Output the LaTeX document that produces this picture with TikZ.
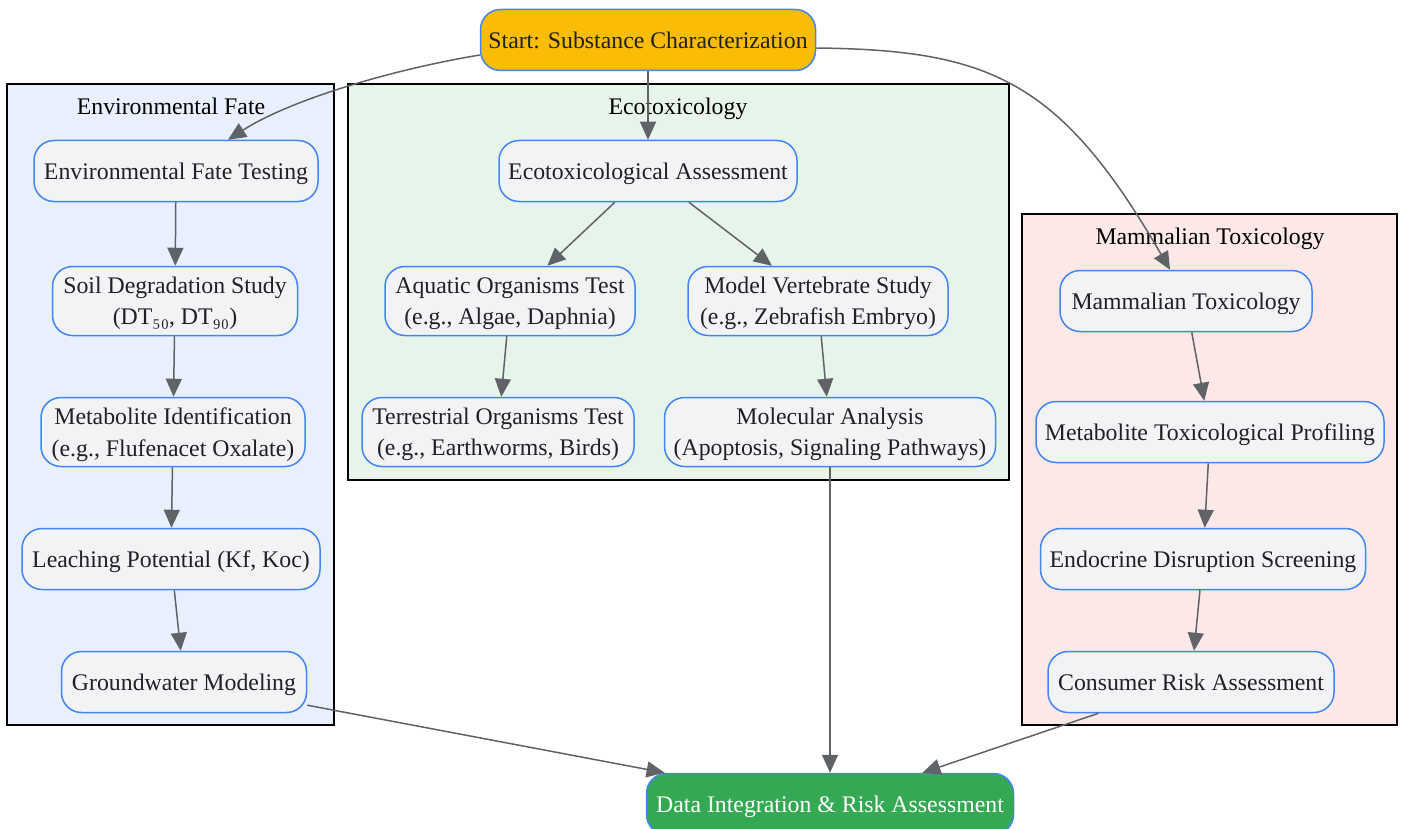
\documentclass[tikz,border=0pt]{standalone}
\usepackage{fontspec}
\setmainfont{Liberation Serif}
\usetikzlibrary{arrows.meta,calc}
\definecolor{nodefill}{HTML}{F1F3F4}
\definecolor{nodeborder}{HTML}{4285F4}
\definecolor{startfill}{HTML}{FBBC04}
\definecolor{endfill}{HTML}{34A853}
\definecolor{edgecol}{HTML}{5F6368}
\definecolor{txtcol}{HTML}{202124}
\definecolor{envfill}{HTML}{E8F0FE}
\definecolor{ecofill}{HTML}{E6F4EA}
\definecolor{mamfill}{HTML}{FCE8E6}
\tikzset{
  box/.style={draw=nodeborder, line width=0.75pt, fill=nodefill, rounded corners=10pt,
    align=center, inner sep=0pt, text=txtcol, text depth=0pt,
    font=\fontsize{11.9}{15.7}\selectfont},
  twoline/.style={box, text depth=-2pt},
  startbox/.style={box, fill=startfill},
  endbox/.style={box, fill=endfill, text=white},
  cluster/.style={draw=black, line width=0.75pt},
  ctitle/.style={font=\fontsize{11.9}{15.5}\selectfont, text=black, text depth=0pt},
  edge/.style={draw=edgecol, line width=0.75pt, -{Triangle[length=9pt,width=8pt]}}
}
\begin{document}
\begin{tikzpicture}[x=0.5pt,y=-0.5pt]
\clip (0,0) rectangle (1403,829);
\fill[white] (0,0) rectangle (1403,829);
% clusters
\draw[cluster, fill=envfill] (7,84) rectangle (334,725);
\draw[cluster, fill=ecofill] (348,84) rectangle (1009,480);
\draw[cluster, fill=mamfill] (1022,214) rectangle (1397,725);
\node[ctitle] (tenv) at (171,106) {Environmental Fate};
\node[ctitle] (teco) at (678,106) {Ecotoxicology};
\node[ctitle] (tmam) at (1210,236) {Mammalian Toxicology};
% nodes
\node[startbox, minimum width=167.5pt, minimum height=30.5pt] (start) at (648,40) {Start: Substance Characterization};
\node[box, minimum width=142pt, minimum height=30.5pt] (envt) at (176,171) {Environmental Fate Testing};
\node[twoline, minimum width=122.5pt, minimum height=34.5pt] (soil) at (175,301) {Soil Degradation Study\\(DT₅₀, DT₉₀)};
\node[twoline, minimum width=132pt, minimum height=34.5pt] (metid) at (173,432) {Metabolite Identification\\(e.g., Flufenacet Oxalate)};
\node[box, minimum width=149pt, minimum height=30.5pt] (leach) at (171,559) {Leaching Potential (Kf, Koc)};
\node[box, minimum width=122.5pt, minimum height=30.5pt] (ground) at (184,682) {Groundwater Modeling};
\node[box, minimum width=149pt, minimum height=30.5pt] (ecoa) at (648,171) {Ecotoxicological Assessment};
\node[twoline, minimum width=125pt, minimum height=34.5pt] (aqua) at (510,301) {Aquatic Organisms Test\\(e.g., Algae, Daphnia)};
\node[twoline, minimum width=130pt, minimum height=34.5pt] (modv) at (818,301) {Model Vertebrate Study\\(e.g., Zebrafish Embryo)};
\node[twoline, minimum width=136pt, minimum height=34.5pt] (terr) at (498,432) {Terrestrial Organisms Test\\(e.g., Earthworms, Birds)};
\node[twoline, minimum width=165.5pt, minimum height=34.5pt] (mol) at (830,432) {Molecular Analysis\\(Apoptosis, Signaling Pathways)};
\node[box, minimum width=126pt, minimum height=30.5pt] (mam) at (1186,301) {Mammalian Toxicology};
\node[box, minimum width=174pt, minimum height=30.5pt] (mettox) at (1210,432) {Metabolite Toxicological Profiling};
\node[box, minimum width=162.5pt, minimum height=30.5pt] (endo) at (1203,559) {Endocrine Disruption Screening};
\node[box, minimum width=143pt, minimum height=30.5pt] (cons) at (1191,682) {Consumer Risk Assessment};
\node[endbox, minimum width=183.5pt, minimum height=30.5pt] (data) at (830,804) {Data Integration \& Risk Assessment};
% edges
\draw[edge] ($(start.west)+(0,15)$) .. controls (390,70) and (290,100) .. ($(envt.north)+(52,0)$);
\draw[edge] (start) -- (ecoa);
\draw[edge] ($(start.east)+(0,8)$) .. controls (990,50) and (1060,80) .. ($(mam.north)+(-16,0)$);
\draw[edge] (envt) -- (soil);
\draw[edge] (soil) -- (metid);
\draw[edge] (metid) -- (leach);
\draw[edge] (leach) -- (ground);
\draw[edge] (ecoa) -- (aqua);
\draw[edge] (ecoa) -- (modv);
\draw[edge] (aqua) -- (terr);
\draw[edge] (modv) -- (mol);
\draw[edge] (mol) -- (data);
\draw[edge] (ground) -- (data);
\draw[edge] (cons) -- (data);
\draw[edge] (mam) -- (mettox);
\draw[edge] (mettox) -- (endo);
\draw[edge] (endo) -- (cons);
\end{tikzpicture}
\end{document}
